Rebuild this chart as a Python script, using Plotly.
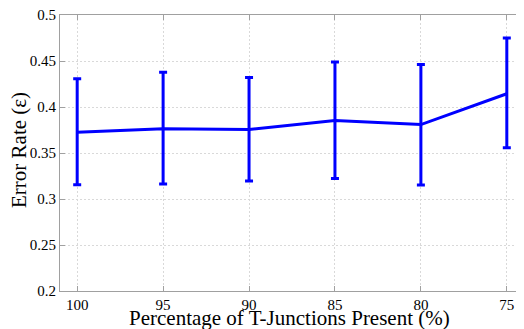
import plotly.graph_objects as go

pct = [100, 95, 90, 85, 80, 75]
err_mean = [0.3726, 0.3763, 0.3755, 0.3853, 0.3809, 0.4144]
err_upper = [0.4307, 0.4379, 0.4321, 0.4488, 0.4463, 0.4750]
err_lower = [0.3156, 0.3163, 0.3196, 0.3224, 0.3152, 0.3556]
y_ticks = [0.2, 0.25, 0.3, 0.35, 0.4, 0.45, 0.5]
y_tick_labels = ["0.2", "0.25", "0.3", "0.35", "0.4", "0.45", "0.5"]
x_title = "Percentage of T-Junctions Present (%)"
y_title = "Error Rate (ε)"

plus = [u - m for u, m in zip(err_upper, err_mean)]
minus = [m - l for m, l in zip(err_mean, err_lower)]

fig = go.Figure(go.Scatter(
    x=pct, y=err_mean, mode="lines",
    line=dict(color="#0000FF", width=3),
    error_y=dict(type="data", symmetric=False, array=plus, arrayminus=minus,
                 color="#0000FF", thickness=3, width=4),
))

axis_common = dict(
    showline=True, linecolor="#a0a0a0", linewidth=1, mirror="allticks",
    ticks="inside", ticklen=5, tickcolor="#a0a0a0",
    showgrid=True, gridcolor="#d9d9d9", griddash="2px,2px", gridwidth=1,
    zeroline=False, automargin=False, ticklabeloverflow="allow",
    tickfont=dict(family="Liberation Serif", size=15, color="#000"),
)

title_font = dict(family="Liberation Serif", size=21, color="#000")

# page body has an 8px margin, so the figure is offset by (8, 8)
fig.update_layout(
    width=516, height=321,
    margin=dict(l=52, r=0, t=7, b=38),
    paper_bgcolor="white", plot_bgcolor="white",
    showlegend=False,
    xaxis=dict(range=[101, 74], tickvals=pct, ticktext=[str(p) for p in pct],
               **axis_common),
    yaxis=dict(range=[0.2, 0.5], tickvals=y_ticks, ticktext=y_tick_labels,
               **axis_common),
    annotations=[
        dict(text=x_title, xref="paper", yref="paper", x=0.5, y=0,
             xanchor="center", yanchor="middle", xshift=-3, yshift=-27,
             showarrow=False, font=title_font),
        dict(text=y_title, xref="paper", yref="paper", x=0, y=0.5,
             xanchor="center", yanchor="middle", xshift=-41, yshift=3,
             showarrow=False, textangle=-90, font=title_font),
    ],
)

fig.write_html("out.html")
